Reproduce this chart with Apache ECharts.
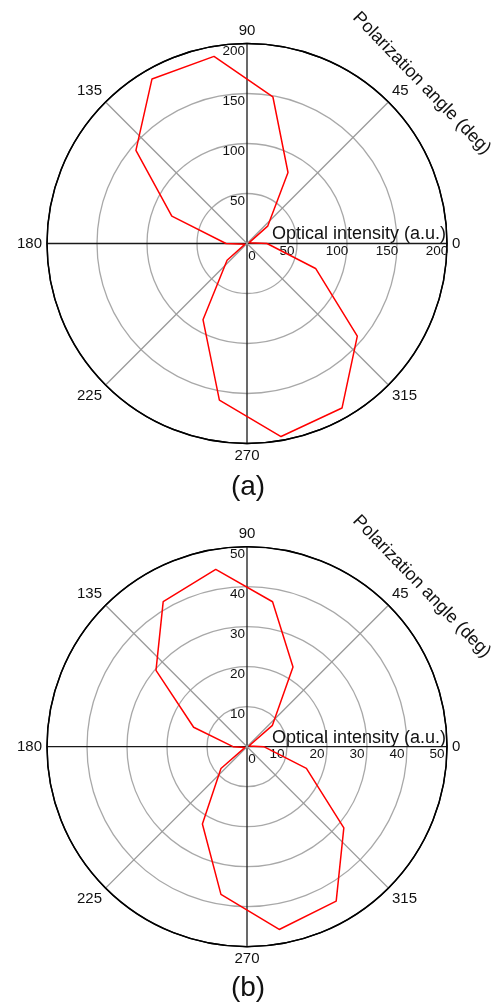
<!DOCTYPE html>
<html><head><meta charset="utf-8">
<script src="https://cdn.jsdelivr.net/npm/echarts@6/dist/echarts.min.js"></script>
<style>html,body{margin:0;padding:0;background:#fff}#c{width:498px;height:1002px}</style>
</head><body><div id="c"></div>
<script>
// Polarization angle (deg) of each sample
const anglesDeg = [0, 20, 40, 60, 80, 100, 120, 140, 160, 180, 200, 220, 240, 260, 280, 300, 320, 340];
// Optical intensity (a.u.), panel (a)
const intensityA = [20, 2, 27, 82, 149, 190, 190, 145, 80, 21, 2, 26, 88, 159, 196, 190, 144, 73];
// Optical intensity (a.u.), panel (b)
const intensityB = [4.2, 0.5, 8.3, 23, 36.8, 45, 41.9, 29.7, 14.2, 3.5, 0.5, 8.5, 22.3, 37.5, 46.4, 44.6, 31.6, 15.8];
// Angle axis ticks
const angleMin = 0, angleMax = 360, angleStep = 45;
// Radius axis ticks
const radiusTicksA = [0, 50, 100, 150, 200];
const radiusTicksB = [0, 10, 20, 30, 40, 50];
const panelLabels = ['(a)', '(b)'];
const radiusName = 'Optical intensity (a.u.)';
const angleName = 'Polarization angle (deg)';

const FF = '"Liberation Sans", Arial, Helvetica, sans-serif';
const TXT = '#111';

function closed(vals) {
  const d = anglesDeg.map((a, i) => [vals[i], a]);
  d.push([vals[0], anglesDeg[0]]);
  return d;
}

const panels = [
  { cy: 243.5, ticks: radiusTicksA, vals: intensityA, labelY: 487.5 },
  { cy: 746.7, ticks: radiusTicksB, vals: intensityB, labelY: 988 }
];

const polar = [], angleAxis = [], radiusAxis = [], series = [], graphic = [];
panels.forEach((p, k) => {
  const pi = k * 2;
  const rMin = p.ticks[0], rMax = p.ticks[p.ticks.length - 1], rStep = p.ticks[1] - p.ticks[0];
  polar.push({ center: [247, p.cy], radius: 200 });
  polar.push({ center: [247, p.cy], radius: 200 });
  angleAxis.push({
    polarIndex: pi, type: 'value', min: angleMin, max: angleMax, interval: angleStep,
    startAngle: 0, clockwise: false,
    axisLine: { show: true, lineStyle: { color: '#000', width: 1.5 } },
    axisTick: { show: false },
    axisLabel: { show: true, margin: 5, fontSize: 15, color: TXT, fontFamily: FF,
      formatter: v => (v === angleMax ? '' : String(v)) },
    splitLine: { show: true, lineStyle: { color: ['#1a1a1a', '#9a9a9a'], width: 1.3 } }
  });
  angleAxis.push({
    polarIndex: pi + 1, type: 'value', min: angleMin, max: angleMax, interval: angleStep,
    startAngle: 90, clockwise: false, show: false
  });
  const circColors = p.ticks.map((t, i) => (i === p.ticks.length - 1 ? '#000' : '#a8a8a8'));
  radiusAxis.push({
    polarIndex: pi, type: 'value', min: rMin, max: rMax, interval: rStep,
    axisLine: { show: false }, axisTick: { show: false },
    splitLine: { show: true, lineStyle: { color: circColors, width: 1.3 } },
    axisLabel: { show: true, margin: -1, verticalAlign: 'top', align: 'center',
      padding: [0, 20, 0, 0], fontSize: 13.5, color: TXT, fontFamily: FF,
      formatter: v => (v === 0 ? '{z|0}' : String(v)),
      rich: { z: { padding: [5, 0, 0, 30], fontSize: 13.5, color: TXT, fontFamily: FF } } },
    name: radiusName, nameLocation: 'end', nameGap: -1, nameMoveOverlap: false,
    nameTextStyle: { align: 'right', verticalAlign: 'bottom', fontSize: 18, color: '#111', fontFamily: FF }
  });
  radiusAxis.push({
    polarIndex: pi + 1, type: 'value', min: rMin, max: rMax, interval: rStep,
    axisLine: { show: false }, axisTick: { show: false }, splitLine: { show: false },
    axisLabel: { show: true, margin: 2, align: 'right', verticalAlign: 'top', padding: [1, 0, 0, 0],
      fontSize: 13.5, color: TXT, fontFamily: FF,
      formatter: v => (v === 0 ? '' : String(v)) }
  });
  series.push({
    type: 'line', coordinateSystem: 'polar', polarIndex: pi,
    data: closed(p.vals), symbol: 'none', showSymbol: false, silent: true,
    lineStyle: { color: '#ff0000', width: 1.5 }, z: 5
  });
  graphic.push({
    type: 'text', x: 421.7, y: p.cy - 160.2, rotation: -46 * Math.PI / 180,
    style: { text: angleName, fontSize: 18, fill: '#111', fontFamily: FF, align: 'center', verticalAlign: 'middle' }
  });
  graphic.push({
    type: 'text', x: 248, y: p.labelY,
    style: { text: panelLabels[k], fontSize: 28, fill: '#111', fontFamily: FF, align: 'center', verticalAlign: 'middle' }
  });
});

const chart = echarts.init(document.getElementById('c'), null, { renderer: 'canvas' });
chart.setOption({
  animation: false,
  backgroundColor: '#fff',
  polar, angleAxis, radiusAxis, series, graphic
});
</script>
</body></html>
